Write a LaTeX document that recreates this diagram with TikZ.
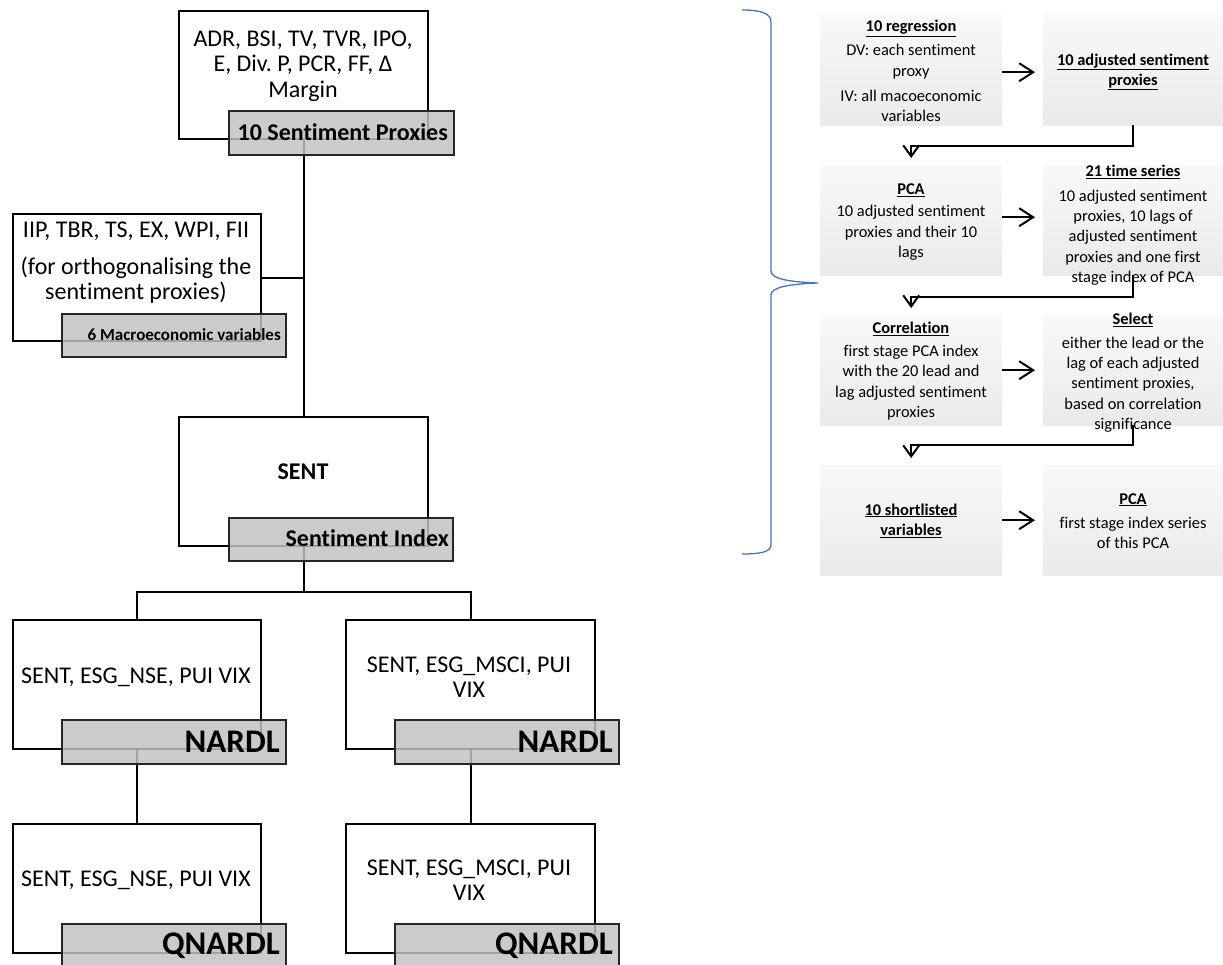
\documentclass[tikz,border=0pt]{standalone}
\usepackage{fontspec}
\setmainfont{Carlito}[Ligatures=NoCommon]
\frenchspacing
\usetikzlibrary{arrows.meta,calc}
\definecolor{bracecol}{HTML}{4472C4}
\pgfdeclareverticalshading{stepfade}{100bp}{color(0bp)=(black!13); color(35bp)=(black!7); color(100bp)=(white)}
\newcommand\stephd[1]{\underline{\textbf{#1}}}
\begin{document}
\begin{tikzpicture}[x=1pt,y=-1pt,
  outerbox/.style={draw=black, line width=2pt, fill=white, inner sep=0pt},
  lab/.style={draw=black!85, line width=2pt, fill=black!24, fill opacity=0.84,
    inner sep=0pt, minimum width=224pt, minimum height=44pt},
  labt/.style={anchor=east, inner sep=0pt, font=\bfseries\fontsize{24}{26}\selectfont},
  txt/.style={align=center, inner sep=0pt, font=\fontsize{24}{25.5}\selectfont},
  conn/.style={line width=2pt},
  fbox/.style={shading=stepfade, inner sep=0pt, minimum width=182pt, minimum height=110pt},
  ft/.style={align=center, inner sep=0pt, font=\fontsize{16.4}{20.2}\selectfont},
  harr/.style={line width=2pt, -{Straight Barb[length=14pt,width=18pt]}},
  varr/.style={line width=2pt, -{Straight Barb[length=11pt,width=16pt]}},
  bracel/.style={draw=bracecol, line width=1.3pt}
]
\useasboundingbox (0,0) rectangle (1223,964);

% ---------- left panel boxes
\node[outerbox, anchor=north west, minimum width=249pt, minimum height=128pt] (box1) at (178,10) {};
\node[outerbox, anchor=north west, minimum width=248pt, minimum height=127pt] (box2) at (12,213) {};
\node[outerbox, anchor=north west, minimum width=249pt, minimum height=129pt] (box3) at (178,416) {};
\node[outerbox, anchor=north west, minimum width=248pt, minimum height=129pt] (box4) at (12,619) {};
\node[outerbox, anchor=north west, minimum width=249pt, minimum height=129pt] (box5) at (345,619) {};
\node[outerbox, anchor=north west, minimum width=248pt, minimum height=129pt] (box6) at (12,823) {};
\node[outerbox, anchor=north west, minimum width=249pt, minimum height=129pt] (box7) at (345,823) {};

% ---------- connectors (left)
\draw[conn] (box1.south) -- (box3.north);
\draw[conn] (box2.east) -- (box2.east -| box1.south);
\draw[conn] (box3.south) -- ++(0,45) coordinate (split);
\draw[conn] (box4.north) |- (split) -| (box5.north);
\draw[conn] (box4.south) -- (box6.north);
\draw[conn] (box5.south) -- (box7.north);

% ---------- labels
\node[lab, anchor=north west, minimum width=225pt] (lab1) at (228,110) {};
\node[lab, anchor=north west, minimum height=43pt] (lab2) at (61,313) {};
\node[lab, anchor=north west, minimum height=43pt] (lab3) at (228,517) {};
\node[lab, anchor=north west] (lab4) at (61,719) {};
\node[lab, anchor=north west] (lab5) at (394,719) {};
\node[lab, anchor=north west] (lab6) at (61,923) {};
\node[lab, anchor=north west] (lab7) at (394,923) {};

\node[labt] (lab1t) at ($(lab1.east)+(-7,-1)$) {10 Sentiment Proxies};
\node[labt, font=\bfseries\fontsize{17}{19}\selectfont] (lab2t) at ($(lab2.east)+(-6,-1)$) {6 Macroeconomic variables};
\node[labt] (lab3t) at ($(lab3.east)+(-5,-1)$) {Sentiment Index};
\node[labt, font=\bfseries\fontsize{33}{35}\selectfont] (lab4t) at ($(lab4.east)+(-7,0)$) {NARDL};
\node[labt, font=\bfseries\fontsize{33}{35}\selectfont] (lab5t) at ($(lab5.east)+(-7,0)$) {NARDL};
\node[labt, font=\bfseries\fontsize{33}{35}\selectfont] (lab6t) at ($(lab6.east)+(-7,0)$) {QNARDL};
\node[labt, font=\bfseries\fontsize{33}{35}\selectfont] (lab7t) at ($(lab7.east)+(-7,0)$) {QNARDL};

% ---------- box texts
\node[txt] (t1) at (303,66) {ADR, BSI, TV, TVR, IPO,\\E, Div. P, PCR, FF, Δ\\Margin};
\node[txt] (t2) at (136,263) {IIP, TBR, TS, EX, WPI, FII\\[11pt](for orthogonalising the\\sentiment proxies)};
\node[txt, font=\bfseries\fontsize{24}{26}\selectfont] (t3) at (303,472) {SENT};
\node[txt] (t4) at (136,677) {SENT, ESG\_NSE, PUI VIX};
\node[txt] (t5) at (469,677) {SENT, ESG\_MSCI, PUI\\VIX};
\node[txt] (t6) at (136,880) {SENT, ESG\_NSE, PUI VIX};
\node[txt] (t7) at (469,880) {SENT, ESG\_MSCI, PUI\\VIX};

% ---------- right panel
\node[fbox, anchor=north west] (r1a) at (820,15) {};
\node[fbox, anchor=north west, minimum width=180pt] (r1b) at (1043,15) {};
\node[fbox, anchor=north west] (r2a) at (820,165) {};
\node[fbox, anchor=north west, minimum width=180pt] (r2b) at (1043,165) {};
\node[fbox, anchor=north west] (r3a) at (820,315) {};
\node[fbox, anchor=north west, minimum width=180pt] (r3b) at (1043,315) {};
\node[fbox, anchor=north west] (r4a) at (820,465) {};
\node[fbox, anchor=north west, minimum width=180pt] (r4b) at (1043,465) {};

\node[ft] (r1at) at (911,71) {\stephd{10 regression}\\[4pt]DV: each sentiment\\proxy\\[5pt]IV: all macoeconomic\\variables};
\node[ft] (r1bt) at (1133,72) {\stephd{10 adjusted sentiment}\\\stephd{proxies}};
\node[ft] (r2at) at (911,222) {\stephd{PCA}\\[2pt]10 adjusted sentiment\\proxies and their 10\\lags};
\node[ft] (r2bt) at (1133,225) {\stephd{21 time series}\\[5pt]10 adjusted sentiment\\proxies, 10 lags of\\adjusted sentiment\\proxies and one first\\stage index of PCA};
\node[ft] (r3at) at (911,371) {\stephd{Correlation}\\[3pt]first stage PCA index\\with the 20 lead and\\lag adjusted sentiment\\proxies};
\node[ft] (r3bt) at (1133,372.5) {\stephd{Select}\\[4pt]either the lead or the\\lag of each adjusted\\sentiment proxies,\\based on correlation\\significance};
\node[ft] (r4at) at (911,520.5) {\stephd{10 shortlisted}\\\stephd{variables}};
\node[ft] (r4bt) at (1133,521) {\stephd{PCA}\\[4pt]first stage index series\\of this PCA};

\draw[harr] ($(r1a.east)+(0,2)$) -- ($(r1b.west)+(-8,2)$);
\draw[harr] ($(r2a.east)+(0,-3)$) -- ($(r2b.west)+(-8,-3)$);
\draw[harr] (r3a.east) -- ($(r3b.west)+(-8,0)$);
\draw[harr] (r4a.east) -- ($(r4b.west)+(-8,0)$);

\draw[varr] (r1b.south) -- ++(0,21) -| ($(r2a.north)+(0,-7)$);
\draw[varr] (r2b.south) -- ++(0,22) -| ($(r3a.north)+(0,-7)$);
\draw[varr] (r3b.south) -- ++(0,20) -| ($(r4a.north)+(0,-7)$);

% ---------- brace
\draw[bracel] (742,10) .. controls (760,10) and (771,13) .. (771,22) -- (771,271)
  .. controls (771,279) and (790,282) .. (818,283)
  .. controls (790,284) and (771,287) .. (771,295) -- (771,545)
  .. controls (771,552) and (760,554) .. (742,554);
\end{tikzpicture}
\end{document}
